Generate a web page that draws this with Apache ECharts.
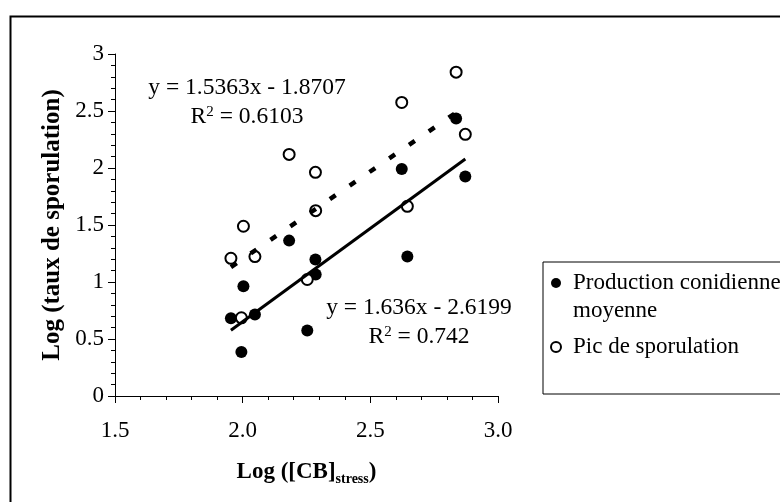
<!DOCTYPE html>
<html>
<head>
<meta charset="utf-8">
<script src="https://cdn.jsdelivr.net/npm/echarts@6/dist/echarts.min.js"></script>
<style>
html,body{margin:0;padding:0;background:#fff;}
#chart{width:780px;height:502px;}
</style>
</head>
<body>
<div id="chart"></div>
<script>
// ---- data ----
var xValues = [1.954, 1.995, 2.003, 2.048, 2.182, 2.253, 2.285, 2.286, 2.623, 2.645, 2.836, 2.872];
var productionMoyenne = [0.683, 0.385, 0.963, 0.715, 1.363, 0.575, 1.197, 1.066, 1.991, 1.223, 2.434, 1.926];
var picSporulation = [1.208, 0.686, 1.489, 1.223, 2.119, 1.022, 1.962, 1.626, 2.575, 1.664, 2.841, 2.295];
var seriesNames = ['Production conidienne moyenne', 'Pic de sporulation'];
var trendSlopes = [1.636, 1.5363];
var trendIntercepts = [-2.6199, -1.8707];
var trendR2 = ['0.742', '0.6103'];
var xTicks = [1.5, 2.0, 2.5, 3.0];
var yTicks = [0, 0.5, 1, 1.5, 2, 2.5, 3];

var FONT = '"Liberation Serif", "Times New Roman", serif';

function pairs(ys) {
  return xValues.map(function (x, i) { return [x, ys[i]]; });
}
var xMin = Math.min.apply(null, xValues);
var xMax = Math.max.apply(null, xValues);
function trend(i) {
  return [xMin, xMax].map(function (x) { return [x, trendSlopes[i] * x + trendIntercepts[i]]; });
}
function eqText(i) {
  var sign = trendIntercepts[i] < 0 ? ' - ' : ' + ';
  return '{t|y = ' + trendSlopes[i] + 'x' + sign + Math.abs(trendIntercepts[i]) + '}\n' +
         '{t|R}{sup|2}{t| = ' + trendR2[i] + '}';
}
var eqRich = {
  t: { fontFamily: FONT, fontSize: 23.5, lineHeight: 29.5, color: '#000' },
  sup: { fontFamily: FONT, fontSize: 15, lineHeight: 29.5, verticalAlign: 'top', padding: [2, 0, 0, 0], color: '#000' }
};

var chart = echarts.init(document.getElementById('chart'), null, { renderer: 'canvas' });
chart.setOption({
  animation: false,
  backgroundColor: '#fff',
  grid: { left: 115, right: 282, top: 54, bottom: 106, containLabel: false },
  xAxis: {
    type: 'value',
    min: xTicks[0], max: xTicks[xTicks.length - 1], interval: xTicks[1] - xTicks[0],
    axisLine: { show: true, lineStyle: { color: '#000', width: 1 } },
    axisTick: { show: true, length: 7, lineStyle: { color: '#000' } },
    minorTick: { show: true, splitNumber: 5, length: 4, lineStyle: { color: '#000' } },
    splitLine: { show: false },
    axisLabel: { fontFamily: FONT, fontSize: 23, color: '#000', margin: 23,
      formatter: function (v) { return v.toFixed(1); } },
    name: '{b|Log ([CB]}{s|stress}{b|)}',
    nameLocation: 'middle',
    nameGap: 62,
    nameTextStyle: {
      rich: {
        b: { fontFamily: FONT, fontSize: 23, fontWeight: 'bold', lineHeight: 28, color: '#000' },
        s: { fontFamily: FONT, fontSize: 14, fontWeight: 'bold', lineHeight: 16, verticalAlign: 'bottom', color: '#000' }
      }
    }
  },
  yAxis: {
    type: 'value',
    min: yTicks[0], max: yTicks[yTicks.length - 1], interval: yTicks[1] - yTicks[0],
    axisLine: { show: true, lineStyle: { color: '#000', width: 1 } },
    axisTick: { show: true, length: 7, lineStyle: { color: '#000' } },
    minorTick: { show: true, splitNumber: 5, length: 4, lineStyle: { color: '#000' } },
    splitLine: { show: false },
    axisLabel: { fontFamily: FONT, fontSize: 23, color: '#000', margin: 11 },
    name: 'Log (taux de sporulation)',
    nameLocation: 'middle',
    nameRotate: 90,
    nameGap: 50,
    nameTextStyle: { fontFamily: FONT, fontSize: 25, fontWeight: 'bold', color: '#000' }
  },
  legend: {
    orient: 'vertical',
    left: 543,
    top: 262,
    padding: [7, 40, 33, 7],
    itemGap: 8,
    itemWidth: 10,
    itemHeight: 38,
    selectedMode: false,
    borderColor: '#000',
    borderWidth: 1,
    backgroundColor: '#fff',
    textStyle: { fontFamily: FONT, fontSize: 23, lineHeight: 28, color: '#000', padding: [0, 0, 0, 7] },
    formatter: function (name) {
      return name === seriesNames[0] ? 'Production conidienne\nmoyenne' : name;
    },
    data: [
      { name: seriesNames[0], icon: 'path://M0,5A5,5,0,1,1,10,5A5,5,0,1,1,0,5ZM5,38' },
      { name: seriesNames[1], icon: 'circle' }
    ]
  },
  series: [
    {
      name: seriesNames[0], type: 'scatter', symbol: 'circle', symbolSize: 12,
      itemStyle: { color: '#000', opacity: 1 },
      data: pairs(productionMoyenne), z: 2
    },
    {
      name: seriesNames[1], type: 'scatter', symbol: 'circle', symbolSize: 11,
      itemStyle: { color: '#fff', borderColor: '#000', borderWidth: 2, opacity: 1 },
      data: pairs(picSporulation), z: 2
    },
    {
      name: 'trend1', type: 'line', data: trend(0), showSymbol: false, symbol: 'none', silent: true,
      lineStyle: { color: '#000', width: 3, type: 'solid' }, z: 3
    },
    {
      name: 'trend2', type: 'line', data: trend(1), showSymbol: false, symbol: 'none', silent: true,
      lineStyle: { color: '#000', width: 4.5, type: [7, 17], cap: 'butt' }, z: 3
    }
  ],
  graphic: [
    { type: 'rect', left: 8, top: 14, shape: { width: 900, height: 700 }, silent: true, z: -10,
      style: { fill: 'none', stroke: '#000', lineWidth: 2 } },
    { type: 'text', x: 247, y: 73, silent: true, z: 10,
      style: { text: eqText(1), rich: eqRich, align: 'center', verticalAlign: 'top' } },
    { type: 'text', x: 419, y: 293, silent: true, z: 10,
      style: { text: eqText(0), rich: eqRich, align: 'center', verticalAlign: 'top' } }
  ]
});
</script>
</body>
</html>
